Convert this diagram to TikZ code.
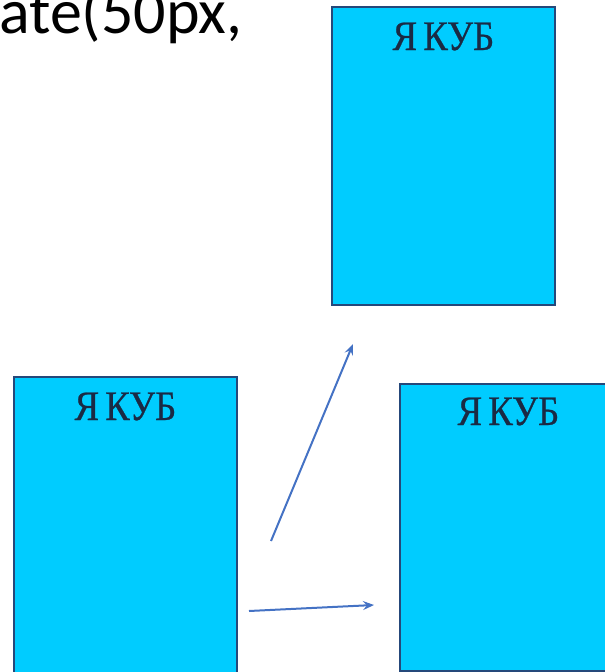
\documentclass[tikz,border=0pt]{standalone}
\usepackage{fontspec}
\setmainfont{Liberation Serif}
\newfontfamily\calib{Carlito}
\usetikzlibrary{arrows.meta,calc}
\definecolor{cubefill}{HTML}{00CCFF}
\definecolor{cubeedge}{HTML}{25487A}
\definecolor{arrowblue}{HTML}{4472C4}
\definecolor{cubetext}{HTML}{1A2A44}
\newcommand{\cubetxt}{\scalebox{0.92}[1.05]{\addfontfeature{FakeBold=0.6}Я\,КУБ}}
\begin{document}
\begin{tikzpicture}[x=1pt,y=-1pt,
  cube/.style={draw=cubeedge, line width=1.8pt, fill=cubefill, rectangle, inner sep=0pt, anchor=north west},
  cubelabel/.style={anchor=base, inner sep=0pt, font=\fontsize{40}{44}\selectfont, text=cubetext},
  flow/.style={draw=arrowblue, line width=2pt, -{Stealth[length=11pt,width=9pt,inset=4pt]}}]
\useasboundingbox (0,0) rectangle (605,672);
\clip (0,0) rectangle (605,672);
\node[anchor=base west, inner sep=0pt, font=\calib\fontsize{64}{70}\selectfont] (code) at (-1,33) {ate(50px,};
\node[cube, minimum width=223pt, minimum height=298pt] (top) at (331,6) {};
\node[cube, minimum width=223pt, minimum height=298pt] (left) at (13,376) {};
\node[cube, minimum width=217pt, minimum height=287pt] (right) at (399,383) {};
\node[cubelabel] (ltop) at ($(top.north)+(0,44)$) {\cubetxt};
\node[cubelabel] (lleft) at ($(left.north)+(0,44)$) {\cubetxt};
\node[cubelabel] (lright) at ($(right.north)+(0,42)$) {\cubetxt};
\coordinate (a1s) at (271,541);
\coordinate (a1e) at (353,344);
\coordinate (a2s) at (249,611);
\coordinate (a2e) at (374,605);
\draw[flow] (a1s) -- (a1e);
\draw[flow] (a2s) -- (a2e);
\end{tikzpicture}
\end{document}
